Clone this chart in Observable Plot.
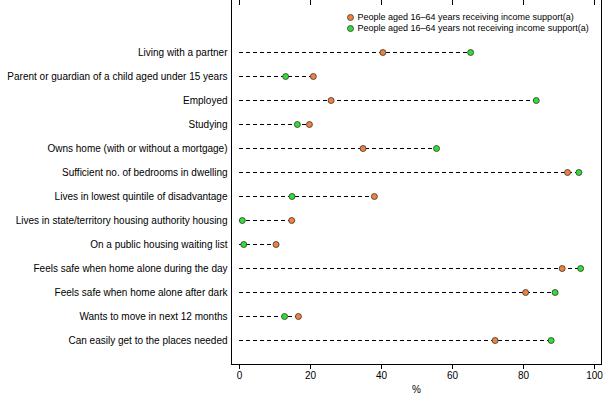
<!DOCTYPE html>
<html>
<head>
<meta charset="utf-8">
<script src="https://cdn.jsdelivr.net/npm/d3@7"></script>
<script src="https://cdn.jsdelivr.net/npm/@observablehq/plot@0.6"></script>
<style>
  body { margin: 0; background: #fff; }
  #chart svg { display: block; }
</style>
</head>
<body>
<div id="chart"></div>
<script>
const categories = [
  "Living with a partner",
  "Parent or guardian of a child aged under 15 years",
  "Employed",
  "Studying",
  "Owns home (with or without a mortgage)",
  "Sufficient no. of bedrooms in dwelling",
  "Lives in lowest quintile of disadvantage",
  "Lives in state/territory housing authority housing",
  "On a public housing waiting list",
  "Feels safe when home alone during the day",
  "Feels safe when home alone after dark",
  "Wants to move in next 12 months",
  "Can easily get to the places needed"
];
const receiving    = [40.4, 20.8, 25.8, 19.7, 34.8, 92.4, 38.0, 14.7, 10.3, 90.9, 80.6, 16.6, 72.0];
const notReceiving = [65.1, 13.0, 83.6, 16.3, 55.5, 95.6, 14.8, 0.8, 1.2, 96.1, 88.9, 12.7, 87.8];
const seriesNames = [
  "People aged 16\u201364 years receiving income support(a)",
  "People aged 16\u201364 years not receiving income support(a)"
];
const xTicks = [0, 20, 40, 60, 80, 100];
const colors = ["#f0823c", "#33dd33"];

const rows = categories.map((c, i) => ({
  label: c, a: receiving[i], b: notReceiving[i], max: Math.max(receiving[i], notReceiving[i])
}));
const points = [
  ...rows.map(r => ({label: r.label, v: r.a, s: seriesNames[0]})),
  ...rows.map(r => ({label: r.label, v: r.b, s: seriesNames[1]}))
];

const font = "Liberation Sans, Arial, sans-serif";
const H = 397, MT = 0, MB = 33;
const frameH = H - MT - MB;

const chart = Plot.plot({
  width: 605,
  height: H,
  marginLeft: 231,
  marginRight: 4,
  marginTop: MT,
  marginBottom: MB,
  style: {fontFamily: font, fontSize: "10px", color: "#000", background: "#fff"},
  x: {domain: [0, 100], insetLeft: 8, insetRight: 7},
  y: {type: "point", domain: categories, padding: 0, insetTop: 52, insetBottom: 24},
  color: {domain: seriesNames, range: colors},
  marks: [
    Plot.frame({stroke: "#000", strokeWidth: 1, insetTop: -3}),
    Plot.axisX({anchor: "bottom", ticks: xTicks, tickSize: 5, tickPadding: 2, label: "%", labelAnchor: "center", labelArrow: "none", labelOffset: 28, fontSize: 10}),
    Plot.ruleX(xTicks, {x: d => d, stroke: "#000", insetBottom: frameH - 5}),
    Plot.axisY({anchor: "left", tickSize: 0, tickPadding: 4, label: null, fontSize: 10}),
    Plot.ruleY(rows, {y: "label", x1: 0, x2: "max", stroke: "#000", strokeWidth: 1, strokeDasharray: "4,3"}),
    Plot.dot(points, {x: "v", y: "label", fill: "s", stroke: "#333", strokeWidth: 0.8, r: 3}),
    Plot.dot([seriesNames[0]], {frameAnchor: "top-left", dx: 119, dy: 17, fill: d => d, stroke: "#333", strokeWidth: 0.8, r: 3}),
    Plot.dot([seriesNames[1]], {frameAnchor: "top-left", dx: 119, dy: 28, fill: d => d, stroke: "#333", strokeWidth: 0.8, r: 3}),
    Plot.text([seriesNames[0]], {frameAnchor: "top-left", dx: 126, dy: 17, text: d => d, textAnchor: "start", lineAnchor: "middle", fontSize: 9, fill: "#000"}),
    Plot.text([seriesNames[1]], {frameAnchor: "top-left", dx: 126, dy: 28, text: d => d, textAnchor: "start", lineAnchor: "middle", fontSize: 9, fill: "#000"})
  ]
});
document.getElementById("chart").appendChild(chart);
</script>
</body>
</html>
